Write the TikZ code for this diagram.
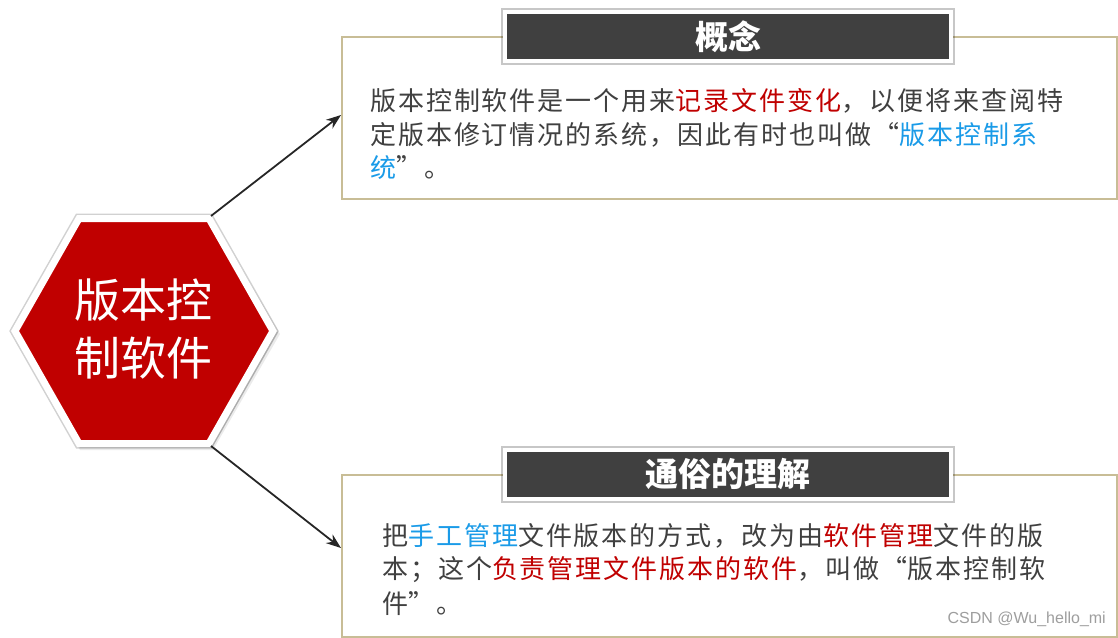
\documentclass[tikz,border=0pt]{standalone}
\usepackage{fontspec}
\setmainfont{Noto Sans CJK SC}
\newfontfamily\wmfont{Liberation Sans}
\usetikzlibrary{arrows.meta}
\definecolor{hexred}{HTML}{C00000}
\definecolor{tanline}{HTML}{C8BD96}
\definecolor{titlegray}{HTML}{404040}
\definecolor{txtgray}{HTML}{404040}
\definecolor{kred}{HTML}{C00000}
\definecolor{kblue}{HTML}{1A9BE8}
\definecolor{arrowgray}{HTML}{262626}
\newcommand\oq{\makebox[27.9pt][r]{“}}
\newcommand\cq{\makebox[27.9pt][l]{”}}
\tikzset{
  bigbox/.style={draw=tanline, line width=2.2pt, fill=white, minimum width=775pt, minimum height=162pt, anchor=north west, inner sep=0pt},
  titlebox/.style={fill=titlegray, draw=white, line width=4pt, minimum width=446pt, minimum height=49pt, inner sep=0pt,
    preaction={draw=black, draw opacity=0.22, line width=7.5pt}, text=white, font=\fontsize{33}{36}\selectfont\bfseries},
  bodyline/.style={anchor=west, inner sep=0pt, text=txtgray, font=\fontsize{26}{34}\selectfont\addfontfeature{LetterSpace=7.5}},
  arr/.style={draw=arrowgray, line width=1.8pt, -{Stealth[length=15pt,width=11pt]}},
}
\begin{document}
\begin{tikzpicture}[x=1pt,y=-1pt]
\useasboundingbox (0,0) rectangle (1118,637);
% hexagon shadow
\fill[black, opacity=0.10] (80,219) -- (212,219) -- (278,333) -- (212,448) -- (80,448) -- (14,333) -- cycle;
\fill[black, opacity=0.08] (80,220) -- (213,220) -- (280,334) -- (213,450) -- (80,450) -- (13,334) -- cycle;
\draw[black, opacity=0.18, line width=10pt, line join=miter] (79,218.5) -- (209,218.5) -- (273,331) -- (209,443.5) -- (79,443.5) -- (15,331) -- cycle;
% hexagon
\draw[white, line width=7pt, fill=hexred, line join=miter] (79,218.5) -- (209,218.5) -- (273,331) -- (209,443.5) -- (79,443.5) -- (15,331) -- cycle;
\coordinate (hxtr) at (211,216);
\coordinate (hxbr) at (211,446);
\node[align=center, text=white, font=\fontsize{46}{58}\selectfont, inner sep=0pt] (hex) at (143.5,329) {版本控\\制软件};
% boxes
\node[bigbox] (cbox) at (341,36) {};
\node[bigbox] (ubox) at (341,474) {};
\node[titlebox] (ct) at (728,36.5) {概念};
\node[titlebox] (ut) at (728,474.5) {通俗的理解};
% text block 1
\node[bodyline] (c1) at (370,101) {版本控制软件是一个用来\textcolor{kred}{记录文件变化}，以便将来查阅特};
\node[bodyline] (c2) at (370,135) {定版本修订情况的系统，因此有时也叫做\oq\textcolor{kblue}{版本控制系}};
\node[bodyline] (c3) at (370,168) {\textcolor{kblue}{统}\cq。};
% text block 2
\node[bodyline] (u1) at (382,536) {把\textcolor{kblue}{手工管理}文件版本的方式，改为由\textcolor{kred}{软件管理}文件的版};
\node[bodyline] (u2) at (382,570) {本；这个\textcolor{kred}{负责管理文件版本的软件}，叫做\oq 版本控制软};
\node[bodyline] (u3) at (382,604) {件\cq。};
% arrows
\coordinate (a1) at (341,115);
\coordinate (a2) at (341,548);
\draw[arr] (hxtr) -- (a1);
\draw[arr] (hxbr) -- (a2);
% watermark
\node[anchor=east, inner sep=0pt, text=black!38, font=\wmfont\fontsize{16}{17}\selectfont] (wm) at (1106,619) {CSDN @Wu\_hello\_mi};
\end{tikzpicture}
\end{document}
